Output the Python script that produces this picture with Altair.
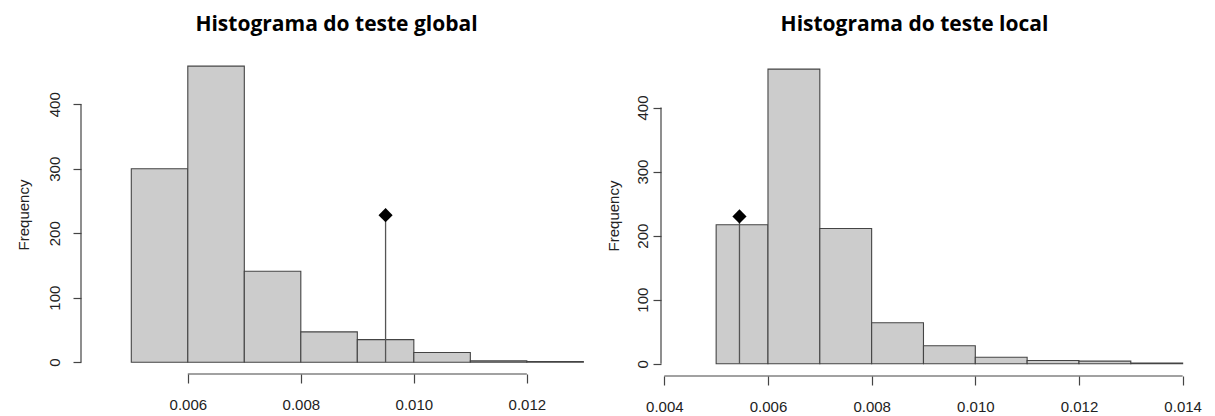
import altair as alt
import pandas as pd

# ---- data ----
global_breaks = [0.005, 0.006, 0.007, 0.008, 0.009, 0.010, 0.011, 0.012, 0.013]
global_counts = [300, 459, 141, 47, 35, 15, 2, 1]
global_obs_x = [0.0095]
global_obs_y = [228]
global_xticks = [0.006, 0.008, 0.010, 0.012]

local_breaks = [0.005, 0.006, 0.007, 0.008, 0.009, 0.010, 0.011, 0.012, 0.013, 0.014]
local_counts = [217, 460, 211, 64, 28, 10, 5, 4, 1]
local_obs_x = [0.00545]
local_obs_y = [230]
local_xticks = [0.004, 0.006, 0.008, 0.010, 0.012, 0.014]

yticks = [0, 100, 200, 300, 400]

STROKE = "#444444"
TEXT = "#222222"
FONT = "Liberation Sans"


def panel(title_text, title_dx, breaks, counts, obs_x, obs_y, xticks,
          xdom, ydom, width, height, label_pad, title_x):
    bars = pd.DataFrame({"start": breaks[:-1], "end": breaks[1:], "count": counts})
    obs = pd.DataFrame({"start": obs_x, "count": obs_y})
    xline_df = pd.DataFrame({"start": [min(xticks)], "end": [max(xticks)]})
    yline_df = pd.DataFrame({"count": [min(yticks)], "top": [max(yticks)]})

    xs = alt.Scale(domain=xdom, nice=False, zero=False)
    ys = alt.Scale(domain=ydom, nice=False, zero=False)

    xaxis = alt.Axis(values=xticks, format=".3f", domain=False, grid=False,
                     tickSize=9, tickColor=STROKE, tickWidth=1.2,
                     labelFont=FONT, labelFontSize=15, labelColor=TEXT,
                     labelPadding=14, labelBaseline="top", labelFlush=False,
                     labelOverlap=False, title=None)
    yaxis = alt.Axis(values=yticks, domain=False, grid=False,
                     tickSize=8, tickColor=STROKE, tickWidth=1.2,
                     labelAngle=270, labelAlign="center", labelBaseline="alphabetic",
                     labelPadding=label_pad, labelFont=FONT, labelFontSize=15,
                     labelColor=TEXT, labelFlush=False, labelOverlap=False,
                     title="Frequency", titleFont=FONT, titleFontSize=15,
                     titleFontWeight="normal", titleColor=TEXT, titleAngle=270,
                     titleBaseline="alphabetic", titleAlign="center", titleX=title_x)

    X = alt.X("start:Q", scale=xs, axis=xaxis)
    Y = alt.Y("count:Q", scale=ys, axis=yaxis)

    rects = alt.Chart(bars).mark_rect(fill="#cccccc", stroke=STROKE, strokeWidth=1.1).encode(
        x=X, x2="end:Q", y=Y, y2=alt.datum(0),
    )
    xline = alt.Chart(xline_df).mark_rule(color=STROKE, strokeWidth=1.2).encode(
        x=X, x2="end:Q", y=alt.value(height)
    )
    yline = alt.Chart(yline_df).mark_rule(color=STROKE, strokeWidth=1.2).encode(
        y=Y, y2="top:Q", x=alt.value(0)
    )
    vline = alt.Chart(obs).mark_rule(color="#555555", strokeWidth=1.3).encode(
        x=X, y=Y, y2=alt.datum(0)
    )
    pt = alt.Chart(obs).mark_point(shape="diamond", filled=True, size=200,
                                   color="black", opacity=1).encode(x=X, y=Y)
    return alt.layer(rects, xline, yline, vline, pt).properties(
        width=width, height=height,
        title=alt.TitleParams(title_text, font="Open Sans", fontSize=21, fontWeight="bold",
                              color="black", anchor="middle", baseline="alphabetic",
                              offset=3, dx=title_dx),
    )


left = panel("Histograma do teste global", 1.5, global_breaks, global_counts,
             global_obs_x, global_obs_y, global_xticks,
             [0.00411, 0.0131], [-18.3, 476.3], 508, 319, 14, -53)
right = panel("Histograma do teste local", -12.5, local_breaks, local_counts,
              local_obs_x, local_obs_y, local_xticks,
              [0.003936, 0.0142], [-19.2, 482.0], 532, 321, 5.5, -43)

chart = alt.hconcat(left, right, spacing=17).configure_view(stroke=None).properties(
    padding={"left": 8, "top": 6, "right": 5, "bottom": 2},
    background="white",
)

chart.save("out.html", embed_options={"renderer": "svg", "actions": False})
